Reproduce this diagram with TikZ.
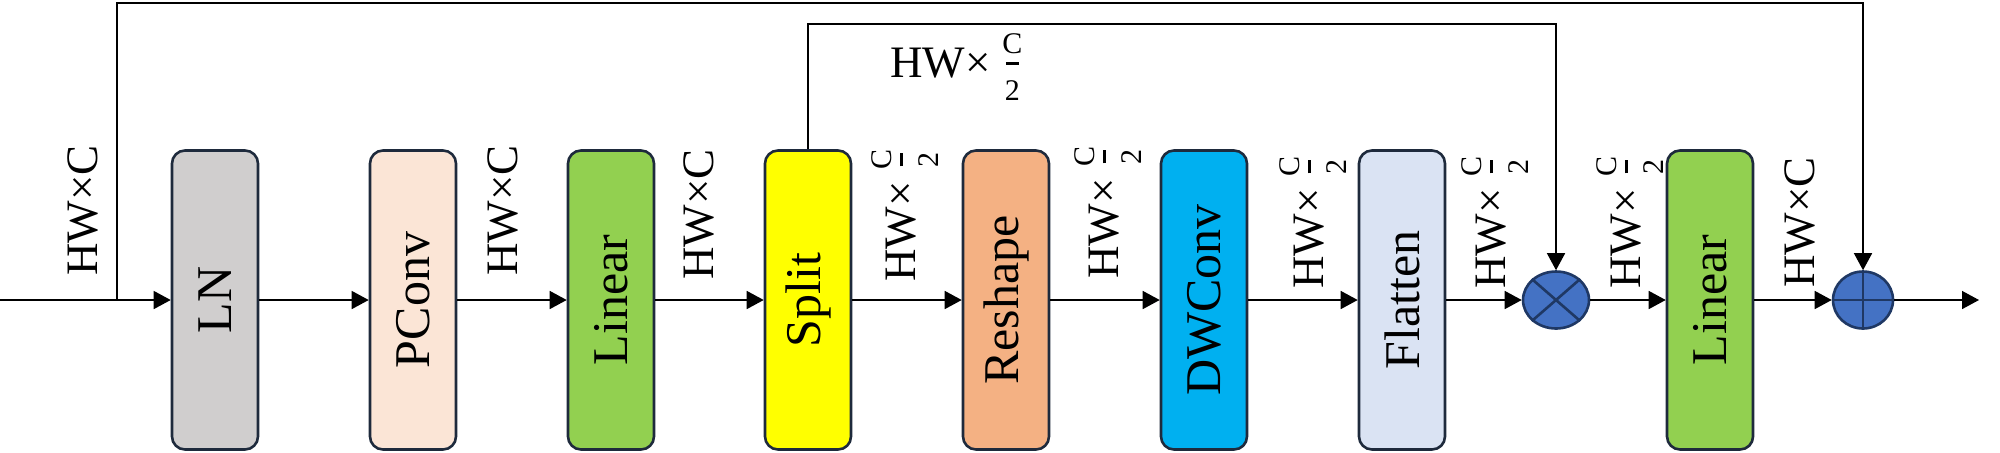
\documentclass[tikz,border=0pt]{standalone}
\usepackage{fontspec}
\setmainfont{Liberation Serif}
\usetikzlibrary{arrows.meta,shapes.geometric}
\definecolor{lngray}{HTML}{D0CECE}
\definecolor{peach}{HTML}{FBE5D6}
\definecolor{lingreen}{HTML}{92D050}
\definecolor{splityel}{HTML}{FFFF00}
\definecolor{reshor}{HTML}{F4B183}
\definecolor{dwblue}{HTML}{00B0F0}
\definecolor{flatblue}{HTML}{DAE3F3}
\definecolor{opblue}{HTML}{4472C4}
\definecolor{opnavy}{HTML}{1F3864}
\definecolor{boxedge}{HTML}{1E2A3C}
\newcommand{\myhalf}{{\fontsize{15pt}{15pt}\selectfont\makebox[9.5pt]{\rlap{\makebox[9.5pt]{\raisebox{11.8pt}{C}}}\rlap{\makebox[9.5pt]{\raisebox{6.2pt}{\rule{6.5pt}{1.5pt}}}}\makebox[9.5pt]{\raisebox{-11.5pt}{2}}}}}
\newcommand{\dimC}{HW×C}
\newcommand{\dimH}{HW×\hspace{6pt}\myhalf}
\tikzset{
  blk/.style={draw=boxedge, line width=1.3pt, rounded corners=6.5pt,
    minimum width=43pt, minimum height=149.5pt, inner sep=0pt,
    font=\fontsize{25pt}{30pt}\selectfont},
  opnode/.style={ellipse, draw=opnavy, fill=opblue, line width=1.3pt, inner sep=0pt},
  oplines/.style={draw=opnavy, line width=1.3pt},
  arr/.style={line width=0.75pt, -{Triangle[length=8.5pt,width=9pt]}},
  dlab/.style={rotate=90, anchor=base east, inner sep=0pt,
    font=\fontsize{22.5pt}{27pt}\selectfont},
  hlab/.style={anchor=base west, inner sep=0pt,
    font=\fontsize{22.5pt}{27pt}\selectfont}
}
\begin{document}
\begin{tikzpicture}[x=0.5pt,y=-0.5pt]
\useasboundingbox (0,0) rectangle (2000,452);
% blocks
\node[blk, fill=lngray]   (lnb) at (215,300)  {\rotatebox{90}{LN}};
\node[blk, fill=peach]    (pc)  at (413,300)  {\rotatebox{90}{PConv}};
\node[blk, fill=lingreen] (la)  at (611,300)  {\rotatebox{90}{Linear}};
\node[blk, fill=splityel] (sp)  at (808,300)  {\rotatebox{90}{Split}};
\node[blk, fill=reshor]   (rs)  at (1006,300) {\rotatebox{90}{Reshape}};
\node[blk, fill=dwblue]   (dw)  at (1204,300) {\rotatebox{90}{DWConv}};
\node[blk, fill=flatblue] (fl)  at (1402,300) {\rotatebox{90}{Flatten}};
\node[blk, fill=lingreen] (lb)  at (1710,300) {\rotatebox{90}{Linear}};
% operators
\node[opnode, minimum width=33pt, minimum height=28.5pt] (tm) at (1556,300) {};
\draw[oplines] (tm.north east) -- (tm.south west) (tm.north west) -- (tm.south east);
\node[opnode, minimum width=30pt, minimum height=28.5pt] (pl) at (1863,300) {};
\draw[oplines] (pl.north) -- (pl.south) (pl.west) -- (pl.east);
% coordinates
\coordinate (in) at (0,300);
\coordinate (lp) at (117,300);
\coordinate (lptop) at (117,3);
\coordinate (out) at (1979,300);
% main chain
\draw[arr] (in) -- (lnb.west);
\draw[arr] (lnb.east) -- (pc.west);
\draw[arr] (pc.east) -- (la.west);
\draw[arr] (la.east) -- (sp.west);
\draw[arr] (sp.east) -- (rs.west);
\draw[arr] (rs.east) -- (dw.west);
\draw[arr] (dw.east) -- (fl.west);
\draw[arr] (fl.east) -- (tm.west);
\draw[arr] (tm.east) -- (lb.west);
\draw[arr] (lb.east) -- (pl.west);
\draw[arr] (pl.east) -- (out);
% skip connections
\draw[arr] (lp) -- (lptop) -| (pl.north);
\draw[arr] (sp.north) -- ++(0,-125) -| (tm.north);
% labels
\node[dlab] (d0) at (97,145)   {\dimC};
\node[dlab] (d1) at (517,145)  {\dimC};
\node[dlab] (d2) at (713,149)  {\dimC};
\node[dlab] (d3) at (915,150)  {\dimH};
\node[dlab] (d4) at (1118,147) {\dimH};
\node[dlab] (d5) at (1323,157) {\dimH};
\node[dlab] (d6) at (1505,157) {\dimH};
\node[dlab] (d7) at (1640,157) {\dimH};
\node[dlab] (d8) at (1814,157) {\dimC};
\node[hlab] (ht) at (890,77) {\dimH};
\end{tikzpicture}
\end{document}
